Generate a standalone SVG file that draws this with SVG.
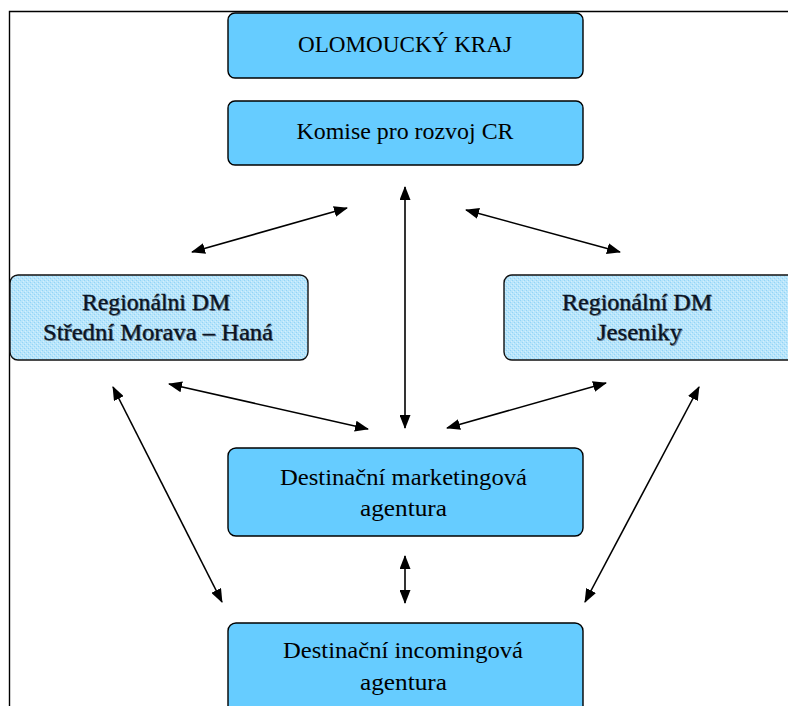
<svg xmlns="http://www.w3.org/2000/svg" width="788" height="706" viewBox="0 0 788 706">
  <style>
    .box { fill: #66ccff; stroke: #000; stroke-width: 1.4; }
    .rbox { fill: url(#dither); stroke: #111; stroke-width: 1.4; }
    .t { font-family: "Liberation Serif", "Times New Roman", serif; font-size: 24px; fill: #000; }
    .rt { font-family: "Liberation Serif", "Times New Roman", serif; font-size: 24px; fill: #0a1424; stroke: #0a1424; stroke-width: 0.3; }
    .sh { font-family: "Liberation Serif", "Times New Roman", serif; font-size: 24px; fill: #6f8596; }
    .c { stroke: #000; stroke-width: 1.6; fill: none; marker-start: url(#ah); marker-end: url(#ah); }
    .frame { stroke: #000; stroke-width: 1.4; fill: none; }
  </style>
  <defs>
    <pattern id="dither" width="4" height="4" patternUnits="userSpaceOnUse">
      <rect width="4" height="4" fill="#b8e5fb"/>
      <rect x="0" y="0" width="1" height="1" fill="#93d4f6"/>
      <rect x="2" y="2" width="1" height="1" fill="#93d4f6"/>
      <rect x="1" y="3" width="1" height="1" fill="#d4effc"/>
      <rect x="3" y="1" width="1" height="1" fill="#d4effc"/>
    </pattern>
    <marker id="ah" viewBox="0 0 14 11" refX="13" refY="5.5" markerWidth="14" markerHeight="11" markerUnits="userSpaceOnUse" orient="auto-start-reverse">
      <path d="M0,0 L14,5.5 L0,11 z" fill="#000"/>
    </marker>
  </defs>

  <rect width="788" height="706" fill="#fff"/>
  <path class="frame" d="M9.5,706 L9.5,11.5 L788,11.5"/>

  <g id="olomoucky-kraj">
    <rect class="box" x="228" y="13" width="355" height="65" rx="7"/>
    <text class="t" x="405" y="52" text-anchor="middle" textLength="214" lengthAdjust="spacingAndGlyphs">OLOMOUCKÝ KRAJ</text>
  </g>

  <g id="komise">
    <rect class="box" x="228" y="101" width="355" height="64" rx="7"/>
    <text class="t" x="405" y="139" text-anchor="middle" textLength="217" lengthAdjust="spacingAndGlyphs">Komise pro rozvoj CR</text>
  </g>

  <g id="rdm-stredni-morava">
    <rect class="rbox" x="10" y="275" width="298" height="85" rx="8"/>
    <text class="sh" x="157" y="311" text-anchor="middle" textLength="148" lengthAdjust="spacingAndGlyphs">Regionálni DM</text>
    <text class="rt" x="156" y="310" text-anchor="middle" textLength="148" lengthAdjust="spacingAndGlyphs">Regionálni DM</text>
    <text class="sh" x="159" y="341" text-anchor="middle" textLength="230" lengthAdjust="spacingAndGlyphs">Střední Morava – Haná</text>
    <text class="rt" x="158" y="340" text-anchor="middle" textLength="230" lengthAdjust="spacingAndGlyphs">Střední Morava – Haná</text>
  </g>

  <g id="rdm-jeseniky">
    <rect class="rbox" x="504" y="275" width="300" height="85" rx="8"/>
    <text class="sh" x="638" y="311" text-anchor="middle" textLength="150" lengthAdjust="spacingAndGlyphs">Regionální DM</text>
    <text class="rt" x="637" y="310" text-anchor="middle" textLength="150" lengthAdjust="spacingAndGlyphs">Regionální DM</text>
    <text class="sh" x="640.5" y="341" text-anchor="middle" textLength="85" lengthAdjust="spacingAndGlyphs">Jeseniky</text>
    <text class="rt" x="639.5" y="340" text-anchor="middle" textLength="85" lengthAdjust="spacingAndGlyphs">Jeseniky</text>
  </g>

  <g id="marketingova-agentura">
    <rect class="box" x="228" y="448" width="355" height="88" rx="8"/>
    <text class="t" x="403.5" y="485" text-anchor="middle" textLength="247" lengthAdjust="spacingAndGlyphs">Destinační marketingová</text>
    <text class="t" x="403.5" y="516" text-anchor="middle" textLength="87" lengthAdjust="spacingAndGlyphs">agentura</text>
  </g>

  <g id="incomingova-agentura">
    <rect class="box" x="228" y="623" width="355" height="100" rx="8"/>
    <text class="t" x="403" y="658" text-anchor="middle" textLength="240" lengthAdjust="spacingAndGlyphs">Destinační incomingová</text>
    <text class="t" x="403.5" y="690" text-anchor="middle" textLength="87" lengthAdjust="spacingAndGlyphs">agentura</text>
  </g>

  <g id="connectors">
    <line class="c" x1="192" y1="252" x2="347" y2="208"/>
    <line class="c" x1="405" y1="187" x2="405" y2="428"/>
    <line class="c" x1="466" y1="210" x2="620" y2="252"/>
    <line class="c" x1="169" y1="384" x2="368" y2="429"/>
    <line class="c" x1="447" y1="428" x2="606" y2="383"/>
    <line class="c" x1="113" y1="387" x2="222" y2="602"/>
    <line class="c" x1="699" y1="387" x2="585" y2="602"/>
    <line class="c" x1="405" y1="556" x2="405" y2="603"/>
  </g>
</svg>
